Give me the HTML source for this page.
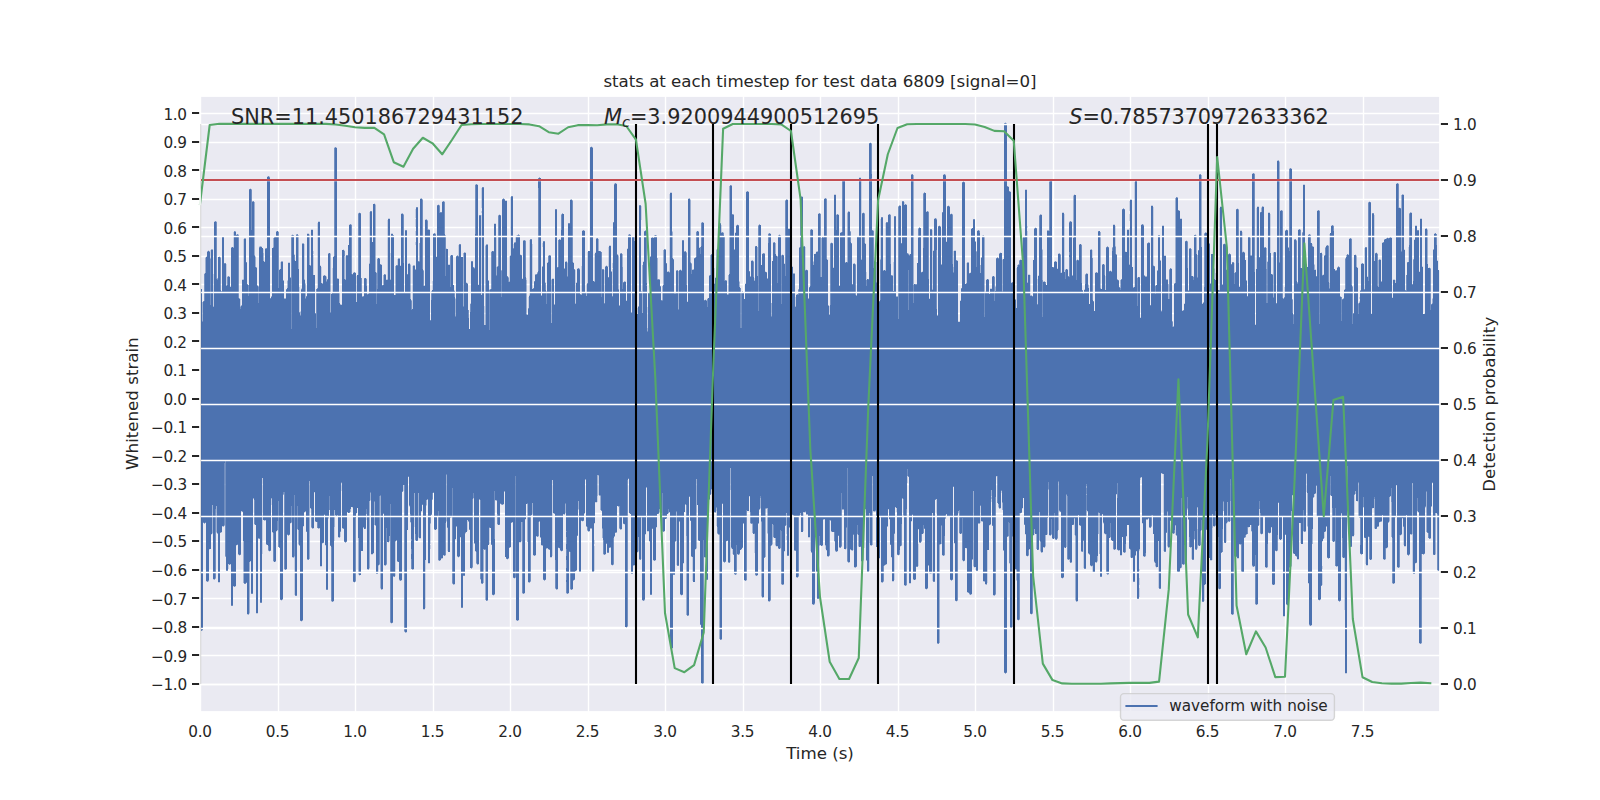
<!DOCTYPE html>
<html lang="en"><head><meta charset="utf-8"><title>stats at each timestep</title>
<style>
html,body{margin:0;padding:0;background:#fff}
body{width:1600px;height:800px;overflow:hidden}
svg{display:block}
text{font-family:"DejaVu Sans","Liberation Sans",sans-serif;fill:#262626}
.tk{font-size:15.28px;letter-spacing:-0.3px}
.lb{font-size:16.67px}
.an{font-size:20.83px}
</style></head><body>
<svg width="1600" height="800" viewBox="0 0 1600 800">
<rect width="1600" height="800" fill="#fff"/>
<rect x="200.0" y="96.0" width="1240.0" height="616.0" fill="#eaeaf2"/>
<path d="M200.50 96.0V712.0M278.50 96.0V712.0M355.50 96.0V712.0M433.50 96.0V712.0M510.50 96.0V712.0M588.50 96.0V712.0M665.50 96.0V712.0M743.50 96.0V712.0M820.50 96.0V712.0M898.50 96.0V712.0M975.50 96.0V712.0M1053.50 96.0V712.0M1130.50 96.0V712.0M1208.50 96.0V712.0M1285.50 96.0V712.0M1363.50 96.0V712.0M200.0 684.50H1440.0M200.0 655.50H1440.0M200.0 627.50H1440.0M200.0 598.50H1440.0M200.0 570.50H1440.0M200.0 541.50H1440.0M200.0 513.50H1440.0M200.0 484.50H1440.0M200.0 456.50H1440.0M200.0 427.50H1440.0M200.0 399.50H1440.0M200.0 370.50H1440.0M200.0 341.50H1440.0M200.0 313.50H1440.0M200.0 284.50H1440.0M200.0 256.50H1440.0M200.0 227.50H1440.0M200.0 199.50H1440.0M200.0 170.50H1440.0M200.0 142.50H1440.0M200.0 113.50H1440.0" stroke="#fff" stroke-width="1.39" fill="none"/>
<clipPath id="c"><rect x="200" y="96" width="1240" height="616"/></clipPath>
<g clip-path="url(#c)"><path d="M200.5 289V629M201.5 289V630M202.5 322V630M203.5 302V522M204.5 301V523M205.5 273V522M206.5 257V581M207.5 252V581M208.5 251V580M209.5 252V549M210.5 305V549M211.5 250V534M212.5 250V505M213.5 307V579M214.5 222V579M215.5 222V509M216.5 279V506M217.5 280V533M218.5 257V582M219.5 257V582M220.5 290V532M221.5 292V532M222.5 237V526M223.5 237V526M224.5 264V463M225.5 264V461M226.5 286V570M227.5 285V570M228.5 277V564M229.5 277V564M230.5 287V564M231.5 248V605M232.5 247V605M233.5 248V586M234.5 232V586M235.5 232V586M236.5 235V545M237.5 235V544M238.5 298V554M239.5 299V555M240.5 309V554M241.5 306V511M242.5 280V511M243.5 280V541M244.5 239V583M245.5 239V583M246.5 263V582M247.5 285V614M248.5 296V614M249.5 190V562M250.5 189V561M251.5 230V593M252.5 202V593M253.5 202V498M254.5 256V500M255.5 267V525M256.5 268V613M257.5 286V613M258.5 303V538M259.5 248V538M260.5 247V602M261.5 247V602M262.5 248V478M263.5 261V520M264.5 262V520M265.5 249V520M266.5 249V544M267.5 177V545M268.5 177V546M269.5 178V551M270.5 299V550M271.5 297V498M272.5 248V532M273.5 248V533M274.5 238V562M275.5 237V561M276.5 232V531M277.5 231V521M278.5 288V501M279.5 270V547M280.5 269V599M281.5 262V600M282.5 262V599M283.5 281V492M284.5 299V492M285.5 299V569M286.5 290V569M287.5 288V534M288.5 263V535M289.5 263V534M290.5 278V523M291.5 329V506M292.5 235V557M293.5 236V557M294.5 260V495M295.5 261V595M296.5 235V595M297.5 235V506M298.5 269V530M299.5 313V545M300.5 316V620M301.5 290V621M302.5 244V620M303.5 244V526M304.5 280V512M305.5 299V511M306.5 297V531M307.5 234V559M308.5 234V559M309.5 265V481M310.5 266V508M311.5 230V509M312.5 230V528M313.5 275V528M314.5 275V492M315.5 314V521M316.5 328V522M317.5 289V522M318.5 222V528M319.5 222V528M320.5 266V566M321.5 283V566M322.5 284V543M323.5 276V542M324.5 276V514M325.5 276V545M326.5 282V589M327.5 280V589M328.5 254V517M329.5 253V496M330.5 313V545M331.5 294V547M332.5 293V601M333.5 257V601M334.5 256V510M335.5 148V515M336.5 148V516M337.5 279V515M338.5 279V537M339.5 303V537M340.5 305V531M341.5 305V482M342.5 250V528M343.5 250V528M344.5 279V541M345.5 280V542M346.5 256V541M347.5 256V512M348.5 245V513M349.5 225V512M350.5 225V509M351.5 274V507M352.5 275V507M353.5 273V581M354.5 273V582M355.5 273V518M356.5 302V513M357.5 275V508M358.5 275V538M359.5 213V575M360.5 214V575M361.5 292V551M362.5 297V551M363.5 297V527M364.5 279V529M365.5 278V528M366.5 286V509M367.5 295V569M368.5 294V569M369.5 264V501M370.5 212V492M371.5 212V554M372.5 242V554M373.5 204V553M374.5 204V501M375.5 272V525M376.5 304V573M377.5 289V573M378.5 258V565M379.5 259V496M380.5 265V495M381.5 265V589M382.5 286V589M383.5 285V513M384.5 275V565M385.5 275V565M386.5 280V528M387.5 280V542M388.5 219V542M389.5 219V536M390.5 280V504M391.5 234V623M392.5 234V622M393.5 236V576M394.5 295V576M395.5 295V541M396.5 266V540M397.5 266V561M398.5 259V562M399.5 259V579M400.5 266V580M401.5 214V580M402.5 214V491M403.5 263V485M404.5 293V485M405.5 231V632M406.5 231V632M407.5 275V530M408.5 264V476M409.5 264V505M410.5 299V514M411.5 310V539M411.5 541V549M411.5 554V559M412.5 309V569M413.5 266V569M414.5 266V493M415.5 270V534M416.5 208V541M417.5 208V540M418.5 262V493M419.5 262V538M420.5 199V538M421.5 199V511M422.5 269V504M423.5 286V609M424.5 286V609M425.5 220V560M426.5 220V500M427.5 230V499M428.5 230V563M429.5 230V563M430.5 321V516M431.5 300V514M432.5 290V493M433.5 234V492M434.5 234V529M435.5 235V530M436.5 257V529M437.5 206V517M438.5 205V511M439.5 213V560M440.5 213V560M441.5 213V558M442.5 202V558M443.5 202V555M444.5 234V555M445.5 276V523M446.5 249V474M447.5 249V527M448.5 265V552M449.5 265V552M450.5 287V517M451.5 255V517M452.5 256V488M453.5 285V584M454.5 297V584M455.5 317V539M456.5 257V526M457.5 256V556M458.5 257V557M459.5 245V556M460.5 245V537M461.5 257V607M462.5 257V607M463.5 307V575M464.5 253V575M465.5 253V532M466.5 283V532M467.5 284V520M468.5 318V521M469.5 329V529M470.5 312V568M471.5 262V568M472.5 262V499M473.5 268V493M474.5 269V543M475.5 234V551M476.5 185V552M477.5 185V564M478.5 285V564M479.5 216V499M480.5 216V500M481.5 295V583M482.5 188V583M483.5 188V549M484.5 325V549M485.5 325V549M486.5 245V600M487.5 245V600M488.5 281V545M489.5 330V527M490.5 290V528M491.5 289V544M492.5 251V594M493.5 252V595M494.5 224V491M494.5 539V594M495.5 224V500M496.5 276V500M497.5 267V514M498.5 266V525M499.5 215V524M500.5 216V503M501.5 297V504M502.5 200V504M503.5 199V504M504.5 200V491M505.5 201V557M506.5 201V558M507.5 277V559M508.5 282V558M509.5 282V547M510.5 256V547M511.5 197V522M512.5 197V522M513.5 249V577M514.5 243V578M515.5 243V476M516.5 236V620M517.5 236V620M518.5 235V620M519.5 236V542M520.5 255V542M521.5 256V522M522.5 279V522M523.5 241V593M524.5 241V593M525.5 277V519M526.5 315V504M527.5 315V503M528.5 309V582M529.5 296V582M530.5 240V516M531.5 240V515M532.5 289V503M533.5 289V555M534.5 282V555M535.5 275V555M536.5 275V536M537.5 274V536M538.5 179V188M538.5 271V522M539.5 178V521M540.5 178V537M541.5 296V545M542.5 267V545M543.5 242V579M544.5 242V580M545.5 290V579M546.5 304V548M547.5 263V548M548.5 262V549M549.5 256V549M550.5 256V557M551.5 323V557M552.5 279V480M553.5 279V513M554.5 305V513M555.5 210V560M556.5 210V589M557.5 268V589M558.5 267V547M559.5 240V548M560.5 240V550M561.5 230V551M562.5 214V550M563.5 214V514M564.5 269V514M565.5 262V503M566.5 262V531M566.5 532V537M566.5 544V549M566.5 556V560M566.5 568V571M566.5 580V582M567.5 277V593M568.5 224V593M569.5 224V551M570.5 200V552M571.5 200V589M572.5 262V589M573.5 263V580M574.5 270V579M575.5 304V571M576.5 283V570M577.5 269V535M578.5 269V501M579.5 270V571M580.5 295V571M581.5 295V520M582.5 231V521M583.5 231V520M584.5 231V513M585.5 293V479M586.5 296V526M587.5 284V527M588.5 251V531M589.5 251V531M590.5 148V528M591.5 147V528M592.5 148V571M593.5 281V571M594.5 282V523M595.5 253V502M596.5 239V502M597.5 239V475M598.5 251V475M599.5 251V495M600.5 252V495M601.5 297V510M602.5 270V528M603.5 270V540M604.5 304V554M605.5 267V554M606.5 266V543M607.5 267V552M608.5 278V552M609.5 246V547M610.5 246V547M611.5 272V564M612.5 297V565M613.5 223V538M614.5 185V536M615.5 184V532M616.5 184V532M617.5 255V506M618.5 290V506M619.5 306V506M620.5 254V529M621.5 254V529M622.5 289V517M623.5 283V523M624.5 282V524M625.5 282V627M626.5 301V627M627.5 249V480M628.5 236V478M629.5 235V513M630.5 235V514M631.5 313V573M632.5 237V573M633.5 237V565M634.5 241V565M635.5 243V474M636.5 314V552M637.5 314V552M638.5 307V537M639.5 206V559M640.5 206V559M641.5 292V517M642.5 313V600M643.5 262V600M644.5 232V599M645.5 231V534M646.5 283V285M646.5 286V487M647.5 332V531M648.5 293V531M649.5 293V541M650.5 257V594M651.5 238V594M652.5 238V528M653.5 238V560M654.5 236V560M655.5 235V560M656.5 236V527M657.5 280V514M658.5 280V513M659.5 280V509M660.5 287V513M661.5 301V513M662.5 301V493M663.5 285V531M664.5 250V531M665.5 250V519M666.5 264V518M667.5 272V514M668.5 272V509M669.5 273V512M670.5 193V648M671.5 193V648M672.5 258V648M673.5 260V574M674.5 294V574M675.5 294V541M676.5 271V511M677.5 271V565M678.5 310V565M679.5 271V521M680.5 270V594M681.5 271V595M682.5 241V594M683.5 241V563M684.5 252V512M685.5 252V504M686.5 285V505M687.5 302V615M688.5 199V615M689.5 199V496M690.5 263V520M691.5 274V556M692.5 270V557M693.5 270V582M694.5 259V582M695.5 258V549M696.5 257V479M697.5 231V505M698.5 232V540M699.5 248V541M700.5 254V624M701.5 246V683M702.5 223V683M703.5 223V540M704.5 301V557M705.5 300V557M706.5 301V579M707.5 307V579M708.5 298V500M709.5 276V499M710.5 275V494M711.5 255V489M712.5 255V484M713.5 268V511M714.5 284V512M715.5 278V512M716.5 277V507M717.5 249V527M718.5 249V534M719.5 224V534M720.5 224V639M721.5 233V639M722.5 233V503M723.5 235V561M724.5 281V562M725.5 281V561M726.5 281V541M727.5 295V540M728.5 295V562M729.5 274V562M730.5 186V468M731.5 186V547M732.5 215V549M733.5 215V554M734.5 250V574M735.5 233V574M736.5 226V545M737.5 225V554M738.5 226V554M739.5 287V553M740.5 328V550M741.5 328V549M742.5 292V547M743.5 292V523M744.5 299V580M745.5 284V580M746.5 192V510M747.5 192V511M748.5 192V511M749.5 272V496M750.5 277V512M751.5 261V523M752.5 261V523M753.5 277V534M754.5 281V533M755.5 247V574M756.5 246V575M757.5 276V575M758.5 311V523M759.5 225V509M760.5 225V496M761.5 265V521M762.5 254V597M763.5 254V597M764.5 254V557M765.5 272V508M766.5 273V508M767.5 279V508M768.5 243V601M769.5 234V601M770.5 234V546M771.5 317V545M772.5 261V524M773.5 243V525M774.5 243V538M775.5 254V538M776.5 256V546M777.5 283V546M778.5 236V548M779.5 235V549M780.5 236V530M781.5 304V531M782.5 255V584M783.5 256V584M784.5 264V551M785.5 276V525M786.5 200V513M787.5 200V555M788.5 229V555M789.5 229V527M790.5 263V527M791.5 264V524M792.5 267V514M793.5 274V515M794.5 274V550M795.5 307V550M796.5 295V577M797.5 295V577M798.5 295V516M799.5 248V515M800.5 247V513M801.5 197V532M802.5 197V532M803.5 247V512M804.5 247V512M805.5 271V511M806.5 270V514M807.5 271V514M808.5 299V537M809.5 288V537M810.5 286V518M811.5 230V552M812.5 230V604M813.5 265V604M814.5 254V603M815.5 254V519M816.5 252V571M817.5 252V598M818.5 214V598M819.5 214V536M820.5 277V545M821.5 277V546M822.5 237V545M823.5 238V519M824.5 199V519M825.5 199V545M826.5 259V550M827.5 260V556M828.5 306V556M829.5 315V520M830.5 305V520M831.5 243V531M832.5 244V532M833.5 268V532M834.5 195V532M835.5 195V550M836.5 230V551M837.5 215V551M838.5 215V535M839.5 286V547M840.5 233V547M841.5 233V493M842.5 232V509M843.5 181V509M844.5 181V549M845.5 263V549M846.5 262V527M847.5 263V468M848.5 212V562M849.5 212V562M850.5 242V549M851.5 244V550M852.5 285V550M853.5 264V534M854.5 264V567M855.5 295V567M856.5 296V566M857.5 237V525M858.5 237V535M859.5 178V547M860.5 178V546M861.5 260V561M862.5 214V561M863.5 213V548M864.5 243V509M865.5 244V509M866.5 286V560M867.5 279V571M868.5 280V571M869.5 144V513M870.5 143V545M871.5 174V178M871.5 181V545M872.5 231V476M873.5 268V511M874.5 262V511M875.5 261V510M876.5 283V547M877.5 287V547M878.5 305V558M879.5 302V558M880.5 300V517M881.5 218V582M882.5 218V582M883.5 271V566M884.5 270V565M885.5 271V564M886.5 223V564M887.5 223V526M888.5 215V509M889.5 215V519M890.5 264V544M891.5 276V557M892.5 276V581M893.5 291V581M894.5 217V533M895.5 217V507M896.5 297V508M897.5 297V554M898.5 319V555M899.5 206V550M900.5 206V546M901.5 244V524M902.5 202V498M903.5 202V499M904.5 205V585M905.5 205V585M906.5 205V509M907.5 254V469M908.5 255V270M908.5 310V476M909.5 256V583M910.5 254V583M911.5 175V521M912.5 175V514M913.5 303V579M914.5 284V580M915.5 285V579M916.5 285V566M917.5 263V566M918.5 238V529M919.5 228V542M920.5 228V542M921.5 273V534M922.5 272V534M923.5 248V525M924.5 193V528M925.5 193V588M926.5 212V589M927.5 212V588M928.5 279V565M929.5 299V572M930.5 230V573M931.5 230V572M932.5 290V513M933.5 251V581M934.5 219V581M935.5 219V499M936.5 220V250M936.5 309V499M937.5 316V643M938.5 227V643M939.5 226V544M940.5 227V544M941.5 265V525M942.5 213V555M943.5 175V555M944.5 175V536M945.5 176V515M946.5 242V514M947.5 207V516M948.5 206V516M949.5 207V516M950.5 215V579M951.5 214V580M952.5 264V579M953.5 273V486M954.5 251V543M955.5 251V600M956.5 261V601M957.5 261V515M958.5 322V511M959.5 322V510M960.5 301V534M961.5 289V533M962.5 183V518M963.5 182V561M964.5 183V560M965.5 284V548M966.5 284V548M967.5 263V592M968.5 263V592M969.5 274V593M970.5 273V594M971.5 229V594M972.5 228V559M973.5 220V491M974.5 220V567M975.5 242V567M976.5 267V570M977.5 231V570M978.5 231V523M979.5 233V523M980.5 273V505M981.5 258V521M982.5 236V521M983.5 236V581M984.5 317V581M985.5 292V584M986.5 280V584M987.5 279V550M988.5 280V550M989.5 294V525M990.5 289V524M991.5 289V490M992.5 277V525M993.5 276V595M994.5 301V595M995.5 291V497M996.5 259V476M997.5 258V476M998.5 259V504M999.5 254V508M1000.5 253V508M1001.5 253V490M1002.5 292V502M1003.5 259V550M1004.5 124V672M1005.5 123V673M1006.5 124V672M1007.5 187V536M1008.5 187V522M1009.5 192V523M1010.5 192V627M1011.5 283V627M1012.5 283V536M1013.5 299V505M1014.5 300V505M1015.5 300V569M1016.5 308V569M1017.5 267V619M1018.5 265V620M1019.5 265V513M1020.5 260V513M1021.5 260V512M1022.5 250V508M1023.5 238V498M1024.5 238V524M1025.5 190V534M1026.5 190V555M1027.5 283V556M1028.5 275V550M1029.5 275V549M1030.5 296V613M1031.5 296V614M1032.5 297V536M1033.5 260V535M1034.5 229V529M1035.5 228V534M1036.5 229V534M1037.5 305V550M1038.5 276V549M1039.5 237V512M1040.5 215V541M1041.5 215V552M1042.5 317V552M1043.5 282V547M1044.5 282V547M1045.5 284V535M1046.5 285V535M1047.5 231V518M1048.5 231V482M1049.5 231V535M1050.5 181V535M1051.5 181V519M1052.5 267V538M1053.5 268V539M1054.5 262V513M1055.5 262V539M1056.5 262V539M1057.5 269V531M1058.5 254V481M1059.5 254V510M1060.5 273V511M1061.5 273V577M1062.5 213V578M1063.5 213V577M1064.5 272V547M1065.5 279V548M1066.5 269V494M1067.5 270V496M1068.5 277V559M1069.5 223V252M1069.5 255V257M1069.5 277V559M1070.5 222V562M1071.5 222V562M1072.5 276V525M1073.5 238V524M1074.5 195V518M1075.5 195V535M1076.5 280V601M1077.5 260V601M1078.5 261V515M1079.5 245V525M1080.5 244V525M1081.5 283V551M1082.5 291V551M1083.5 294V540M1084.5 290V568M1085.5 284V568M1086.5 274V484M1087.5 274V511M1088.5 288V553M1089.5 304V554M1090.5 250V565M1091.5 250V566M1092.5 300V565M1093.5 302V572M1094.5 311V572M1095.5 273V562M1096.5 273V562M1097.5 273V556M1098.5 232V512M1099.5 231V513M1100.5 289V576M1101.5 289V576M1102.5 265V514M1103.5 264V522M1104.5 275V533M1105.5 290V534M1106.5 248V534M1107.5 247V574M1108.5 248V574M1109.5 272V538M1110.5 271V523M1111.5 272V540M1112.5 251V541M1113.5 225V541M1114.5 225V549M1115.5 254V549M1116.5 255V494M1117.5 280V483M1117.5 498V549M1118.5 281V550M1119.5 288V550M1120.5 290V555M1121.5 280V555M1122.5 210V537M1123.5 209V552M1124.5 210V552M1125.5 252V544M1126.5 252V536M1127.5 230V525M1128.5 230V525M1129.5 265V548M1130.5 200V549M1131.5 200V558M1132.5 267V557M1133.5 288V581M1134.5 287V581M1135.5 181V555M1136.5 181V551M1137.5 306V598M1138.5 277V598M1139.5 278V549M1140.5 318V477M1141.5 225V477M1142.5 225V523M1143.5 226V556M1144.5 276V556M1145.5 277V553M1146.5 277V519M1147.5 244V519M1148.5 243V518M1149.5 243V527M1150.5 306V527M1151.5 206V515M1152.5 206V515M1153.5 266V534M1154.5 267V561M1155.5 294V563M1156.5 285V567M1157.5 271V567M1158.5 236V541M1159.5 236V588M1160.5 261V588M1161.5 312V473M1162.5 226V473M1163.5 226V474M1164.5 256V551M1165.5 256V551M1166.5 280V532M1167.5 280V511M1168.5 299V547M1169.5 299V547M1170.5 269V520M1171.5 269V520M1172.5 327V533M1173.5 327V533M1174.5 284V530M1175.5 283V525M1176.5 198V535M1177.5 198V571M1178.5 211V572M1179.5 211V571M1180.5 219V568M1181.5 219V498M1182.5 311V564M1183.5 311V564M1184.5 304V545M1185.5 242V563M1186.5 241V563M1187.5 268V497M1188.5 291V519M1189.5 249V537M1190.5 249V547M1191.5 276V547M1192.5 276V559M1193.5 280V559M1194.5 235V531M1195.5 235V549M1196.5 254V549M1197.5 278V507M1198.5 251V545M1199.5 175V546M1200.5 175V531M1201.5 247V520M1202.5 304V601M1203.5 303V601M1204.5 287V585M1205.5 233V584M1206.5 233V529M1207.5 281V528M1208.5 244V503M1209.5 244V558M1210.5 284V560M1211.5 254V560M1212.5 254V514M1213.5 268V526M1214.5 279V526M1215.5 280V511M1216.5 273V510M1217.5 273V535M1218.5 290V537M1219.5 291V589M1220.5 207V588M1221.5 207V552M1222.5 285V529M1223.5 245V501M1224.5 244V542M1225.5 245V543M1226.5 270V523M1227.5 270V502M1228.5 255V521M1229.5 254V521M1230.5 255V479M1231.5 265V614M1232.5 263V614M1233.5 263V515M1234.5 284V515M1235.5 273V557M1236.5 210V556M1237.5 209V558M1238.5 263V558M1239.5 287V544M1240.5 231V544M1241.5 231V544M1242.5 253V572M1243.5 252V572M1244.5 253V537M1245.5 260V535M1246.5 281V534M1247.5 297V527M1248.5 237V527M1249.5 237V527M1250.5 256V525M1251.5 256V525M1252.5 174V565M1253.5 174V566M1254.5 272V566M1255.5 325V555M1256.5 269V604M1257.5 207V604M1258.5 207V525M1259.5 258V501M1260.5 213V513M1261.5 212V534M1262.5 207V533M1263.5 207V516M1264.5 248V516M1265.5 248V567M1266.5 303V567M1267.5 303V544M1268.5 213V532M1269.5 213V533M1270.5 253V532M1271.5 274V527M1272.5 275V584M1273.5 298V585M1274.5 252V584M1275.5 253V550M1276.5 304V551M1277.5 161V535M1278.5 161V502M1279.5 263V539M1280.5 211V540M1281.5 211V539M1282.5 298V516M1283.5 299V616M1284.5 298V616M1285.5 231V534M1286.5 230V604M1287.5 231V605M1288.5 248V604M1289.5 251V567M1290.5 169V567M1291.5 169V511M1292.5 313V495M1293.5 324V553M1294.5 240V554M1295.5 240V555M1296.5 281V556M1297.5 284V559M1298.5 230V559M1299.5 230V523M1300.5 268V523M1301.5 268V544M1302.5 269V544M1303.5 185V510M1304.5 185V531M1305.5 264V531M1306.5 265V473M1307.5 267V493M1308.5 235V583M1309.5 235V624M1310.5 243V625M1311.5 243V625M1312.5 247V529M1313.5 247V497M1314.5 270V494M1315.5 270V493M1316.5 277V485M1317.5 211V517M1318.5 211V599M1319.5 324V600M1320.5 253V599M1321.5 253V585M1322.5 276V541M1323.5 275V538M1324.5 256V532M1325.5 255V531M1326.5 246V526M1327.5 246V557M1328.5 282V558M1329.5 289V558M1330.5 233V476M1331.5 226V496M1332.5 226V508M1333.5 231V542M1334.5 269V541M1335.5 271V508M1336.5 271V566M1337.5 268V566M1338.5 267V600M1339.5 268V601M1340.5 297V600M1341.5 321V513M1342.5 300V538M1343.5 299V558M1344.5 290V557M1345.5 289V673M1346.5 257V673M1347.5 255V466M1348.5 255V533M1349.5 239V534M1350.5 239V547M1351.5 285V546M1352.5 324V536M1353.5 314V536M1354.5 255V494M1355.5 255V491M1356.5 267V501M1357.5 268V501M1358.5 314V482M1359.5 303V517M1360.5 291V518M1360.5 545V553M1361.5 264V554M1362.5 264V554M1363.5 264V497M1364.5 290V537M1365.5 248V538M1366.5 248V565M1367.5 277V565M1368.5 281V536M1369.5 202V537M1370.5 203V560M1371.5 314V559M1372.5 214V508M1373.5 214V508M1374.5 261V497M1375.5 254V529M1376.5 253V528M1377.5 286V526M1378.5 287V526M1379.5 260V522M1380.5 260V521M1381.5 282V521M1382.5 243V515M1383.5 243V559M1384.5 240V559M1385.5 239V548M1386.5 239V548M1387.5 238V547M1388.5 239V522M1389.5 238V497M1390.5 238V496M1391.5 238V488M1392.5 298V538M1393.5 280V583M1394.5 280V583M1395.5 283V517M1396.5 184V485M1397.5 184V567M1398.5 208V567M1399.5 208V535M1400.5 209V535M1401.5 252V534M1402.5 195V518M1403.5 195V526M1404.5 250V546M1405.5 291V546M1406.5 291V515M1407.5 263V554M1408.5 262V555M1409.5 245V554M1410.5 213V534M1411.5 213V534M1412.5 285V483M1413.5 281V573M1414.5 240V573M1415.5 226V563M1416.5 226V562M1417.5 231V498M1418.5 231V512M1419.5 272V643M1420.5 219V643M1421.5 219V554M1422.5 267V554M1423.5 314V554M1424.5 314V553M1425.5 229V506M1426.5 229V491M1427.5 264V532M1428.5 268V533M1429.5 268V538M1430.5 310V538M1431.5 305V506M1432.5 304V482M1433.5 250V554M1434.5 234V555M1435.5 234V513M1436.5 245V513M1437.5 261V514M1438.5 270V570M1439.5 271V570" stroke="#4c72b0" stroke-width="1" stroke-opacity="1.0" fill="none" shape-rendering="crispEdges"/>
<path d="M200.5 629V630M201.5 630V631M202.5 321V322M203.5 301V302M203.5 522V523M204.5 274V301M205.5 522V523M207.5 581V582M208.5 580V581M210.5 259V305M215.5 221V222M215.5 509V578M216.5 222V279M217.5 279V280M220.5 258V290M220.5 532V533M221.5 291V292M222.5 236V237M223.5 236V237M224.5 263V264M224.5 463V525M225.5 263V264M225.5 461V556M226.5 570V571M227.5 277V285M227.5 570V571M228.5 276V277M229.5 564V565M231.5 605V606M232.5 605V606M234.5 231V232M234.5 586V587M237.5 234V235M237.5 544V545M238.5 235V298M240.5 307V309M240.5 554V555M242.5 511V512M244.5 583V584M245.5 583V584M246.5 262V263M246.5 582V583M247.5 284V285M248.5 285V296M249.5 189V190M251.5 190V230M251.5 593V594M252.5 593V594M253.5 201V202M254.5 255V256M254.5 500V524M258.5 287V303M259.5 247V248M259.5 538V539M260.5 602V603M261.5 602V603M266.5 248V249M268.5 176V177M268.5 546V550M269.5 177V178M270.5 298V299M270.5 550V551M273.5 247V248M273.5 533V561M274.5 237V238M277.5 521V530M278.5 232V288M278.5 501V547M279.5 547V548M280.5 599V600M283.5 492V494M284.5 492V569M285.5 569V570M286.5 289V290M287.5 534V535M289.5 534V535M291.5 236V329M291.5 506V522M293.5 235V236M294.5 255V260M294.5 495V556M295.5 595V596M296.5 595V596M297.5 234V235M297.5 506V529M299.5 312V313M300.5 315V316M300.5 620V621M301.5 289V290M305.5 298V299M306.5 296V297M306.5 531V532M308.5 559V560M311.5 509V527M315.5 313V314M316.5 289V328M317.5 288V289M317.5 522V528M323.5 542V543M324.5 275V276M324.5 514V515M326.5 281V282M326.5 589V590M327.5 279V280M327.5 589V590M329.5 496V510M330.5 312V313M330.5 545V546M331.5 547V601M332.5 601V602M334.5 148V256M335.5 147V148M340.5 531V532M341.5 482V483M343.5 528V529M344.5 251V256M344.5 541V542M346.5 255V256M346.5 541V542M347.5 255V256M349.5 512V513M350.5 224V225M351.5 225V274M352.5 274V275M353.5 581V582M354.5 272V273M355.5 518V581M358.5 214V275M360.5 213V214M361.5 278V292M363.5 296V297M364.5 278V279M365.5 528V529M366.5 279V286M366.5 509V514M367.5 294V295M370.5 211V212M370.5 492V493M371.5 211V212M374.5 501V502M376.5 273V304M376.5 573V574M377.5 259V289M377.5 573V574M379.5 496V564M380.5 264V265M380.5 495V496M382.5 285V286M383.5 513V514M384.5 274V275M386.5 528V564M390.5 504V622M392.5 622V623M393.5 235V236M394.5 576V577M396.5 265V266M397.5 265V266M399.5 579V580M400.5 580V581M402.5 491V492M403.5 215V263M404.5 485V631M405.5 230V231M406.5 230V231M407.5 274V275M408.5 476V477M409.5 505V506M410.5 514V522M411.5 301V310M411.5 539V541M411.5 549V554M411.5 559V569M415.5 534V540M416.5 207V208M417.5 207V208M417.5 540V541M418.5 261V262M419.5 261V262M422.5 200V269M422.5 504V505M423.5 271V286M427.5 221V230M430.5 320V321M430.5 516V523M431.5 292V300M431.5 514V515M432.5 493V499M433.5 492V493M434.5 233V234M435.5 234V235M437.5 205V206M438.5 511V560M439.5 206V213M439.5 560V561M440.5 212V213M441.5 212V213M443.5 201V202M444.5 202V234M444.5 555V556M445.5 236V276M445.5 523V555M446.5 474V475M447.5 527V528M450.5 256V287M452.5 255V256M452.5 488V583M454.5 291V297M455.5 316V317M456.5 256V257M458.5 256V257M459.5 244V245M460.5 244V245M461.5 607V608M462.5 607V608M463.5 306V307M463.5 575V576M464.5 575V576M465.5 532V533M468.5 310V318M469.5 529V530M470.5 304V312M471.5 261V262M472.5 261V262M472.5 499V567M473.5 267V268M473.5 493V498M474.5 268V269M475.5 185V234M476.5 184V185M476.5 552V563M479.5 215V216M480.5 215V216M480.5 500V579M482.5 187V188M482.5 583V584M483.5 187V188M484.5 549V550M485.5 549V550M486.5 600V601M489.5 290V330M489.5 527V528M490.5 289V290M491.5 252V289M491.5 544V545M492.5 594V595M493.5 251V252M494.5 491V539M496.5 275V276M497.5 514V524M498.5 216V266M499.5 524V525M500.5 215V216M500.5 503V504M501.5 271V297M502.5 199V200M502.5 504V505M504.5 199V200M506.5 558V559M507.5 276V277M508.5 278V282M509.5 547V548M511.5 196V197M511.5 522V523M512.5 196V197M513.5 248V249M513.5 577V578M515.5 242V243M515.5 476V577M517.5 235V236M517.5 620V621M519.5 235V236M521.5 255V256M522.5 522V593M523.5 593V594M524.5 240V241M525.5 241V277M526.5 314V315M527.5 503V504M528.5 308V309M530.5 239V240M530.5 516V581M531.5 239V240M533.5 288V289M534.5 281V282M534.5 555V556M536.5 274V275M537.5 273V274M537.5 536V537M538.5 178V179M538.5 188V271M538.5 522V536M543.5 241V242M543.5 579V580M544.5 241V242M545.5 283V290M545.5 579V580M546.5 292V304M548.5 256V262M549.5 255V256M549.5 549V550M554.5 513V514M555.5 209V210M555.5 560V588M556.5 209V210M557.5 267V268M558.5 240V267M558.5 547V548M559.5 239V240M561.5 215V230M562.5 550V551M565.5 503V504M566.5 531V532M566.5 537V544M566.5 549V556M566.5 560V568M566.5 571V580M566.5 582V593M567.5 276V277M567.5 593V594M568.5 223V224M569.5 223V224M569.5 551V552M570.5 552V589M571.5 589V590M572.5 201V262M574.5 269V270M574.5 579V580M577.5 535V536M578.5 268V269M579.5 269V270M579.5 571V572M580.5 294V295M580.5 571V572M581.5 520V521M583.5 230V231M583.5 520V521M587.5 283V284M587.5 527V530M590.5 147V148M592.5 571V572M593.5 571V572M597.5 238V239M600.5 251V252M600.5 495V496M601.5 252V297M601.5 510V511M602.5 269V270M602.5 528V529M603.5 269V270M603.5 540V554M604.5 303V304M604.5 554V555M606.5 543V544M607.5 552V553M608.5 277V278M608.5 552V553M609.5 547V548M611.5 564V565M612.5 296V297M613.5 222V223M613.5 538V564M614.5 184V185M615.5 183V184M615.5 532V533M618.5 289V290M619.5 506V528M621.5 253V254M622.5 267V289M623.5 282V283M623.5 523V524M627.5 480V626M628.5 235V236M628.5 478V479M629.5 234V235M631.5 573V574M632.5 573V574M633.5 236V237M635.5 242V243M639.5 205V206M640.5 205V206M640.5 559V560M643.5 600V601M644.5 231V232M644.5 599V600M646.5 232V283M646.5 285V286M647.5 331V332M649.5 292V293M650.5 594V595M651.5 594V595M652.5 237V238M652.5 528V529M654.5 560V561M657.5 279V280M658.5 279V280M658.5 513V514M660.5 286V287M661.5 300V301M662.5 300V301M662.5 493V531M663.5 531V532M664.5 249V250M666.5 263V264M668.5 509V513M669.5 272V273M671.5 648V649M673.5 259V260M673.5 574V575M674.5 293V294M674.5 574V575M675.5 293V294M676.5 511V512M677.5 270V271M677.5 565V566M678.5 309V310M678.5 565V566M679.5 270V271M682.5 240V241M682.5 594V595M683.5 240V241M685.5 251V252M686.5 253V285M686.5 505V536M687.5 615V616M689.5 496V497M690.5 262V263M690.5 520V521M691.5 264V274M694.5 258V259M696.5 232V257M700.5 247V254M700.5 624V625M701.5 223V246M702.5 222V223M702.5 683V684M703.5 540V683M704.5 300V301M706.5 579V580M707.5 299V307M707.5 579V580M710.5 494V495M711.5 254V255M716.5 507V508M717.5 527V533M719.5 223V224M719.5 534V535M720.5 223V224M720.5 639V640M722.5 232V233M722.5 503V504M723.5 233V235M723.5 561V562M724.5 237V281M725.5 280V281M725.5 561V562M727.5 540V541M728.5 294V295M729.5 562V563M730.5 185V186M731.5 547V548M732.5 214V215M733.5 554V555M735.5 574V575M736.5 545V574M738.5 225V226M738.5 554V555M739.5 553V554M740.5 288V328M741.5 293V328M742.5 547V548M745.5 580V581M746.5 510V580M747.5 191V192M749.5 271V272M750.5 512V523M751.5 523V524M752.5 523V524M753.5 262V277M754.5 533V534M755.5 246V247M755.5 574V575M756.5 575V576M758.5 226V311M760.5 496V498M761.5 521V522M763.5 253V254M764.5 557V558M765.5 508V509M766.5 272V273M768.5 234V243M769.5 233V234M770.5 546V600M771.5 316V317M773.5 525V537M774.5 242V243M777.5 257V283M780.5 530V548M781.5 256V304M781.5 531V584M782.5 584V585M783.5 255V256M785.5 201V276M785.5 525V526M787.5 555V556M788.5 555V556M792.5 514V515M795.5 550V551M797.5 294V295M798.5 290V295M798.5 516V576M799.5 515V516M800.5 198V247M804.5 246V247M805.5 270V271M805.5 511V512M807.5 270V271M809.5 287V288M810.5 230V286M811.5 229V230M813.5 604V605M814.5 603V604M815.5 519V520M816.5 571V572M817.5 598V599M818.5 598V599M819.5 213V214M819.5 536V545M820.5 214V277M823.5 237V238M825.5 198V199M826.5 199V259M829.5 520V555M830.5 244V305M832.5 243V244M834.5 532V541M835.5 550V551M836.5 215V230M836.5 551V552M837.5 214V215M838.5 535V536M840.5 547V548M841.5 232V233M841.5 493V546M842.5 181V232M843.5 180V181M846.5 527V528M847.5 262V263M847.5 468V561M850.5 232V242M851.5 243V244M852.5 284V285M853.5 534V535M855.5 265V295M856.5 566V567M857.5 525V534M860.5 546V547M862.5 213V214M864.5 214V243M866.5 280V286M867.5 571V572M868.5 279V280M868.5 571V572M869.5 143V144M871.5 144V174M871.5 178V181M872.5 230V231M873.5 231V268M874.5 261V262M875.5 510V511M876.5 282V283M877.5 547V557M878.5 304V305M879.5 301V302M880.5 260V300M881.5 217V218M882.5 217V218M883.5 566V581M885.5 564V565M886.5 222V223M887.5 222V223M889.5 214V215M890.5 215V264M890.5 544V545M891.5 275V276M894.5 216V217M894.5 533V534M895.5 216V217M897.5 554V555M898.5 207V319M899.5 550V554M901.5 243V244M901.5 524V545M902.5 201V202M903.5 201V202M903.5 499V515M905.5 204V205M905.5 585V586M906.5 509V585M907.5 253V254M907.5 469V476M908.5 254V255M908.5 270V310M908.5 476V477M909.5 255V256M912.5 174V175M912.5 514V515M913.5 285V303M915.5 284V285M916.5 284V285M916.5 566V567M917.5 566V567M918.5 229V238M920.5 542V543M921.5 272V273M921.5 534V541M923.5 194V248M923.5 525V533M924.5 528V529M925.5 588V589M927.5 211V212M928.5 212V279M929.5 572V573M930.5 229V230M931.5 229V230M931.5 572V573M933.5 581V582M934.5 581V582M935.5 218V219M935.5 499V500M936.5 219V220M936.5 250V309M938.5 226V227M938.5 643V644M939.5 544V545M941.5 525V526M942.5 212V213M943.5 555V556M944.5 174V175M944.5 536V555M945.5 175V176M945.5 515V518M947.5 206V207M948.5 516V517M950.5 214V215M950.5 579V580M952.5 215V264M952.5 579V580M953.5 272V273M953.5 486V487M955.5 600V601M956.5 260V261M957.5 515V600M959.5 510V533M961.5 288V289M962.5 182V183M962.5 518V560M964.5 182V183M964.5 560V561M966.5 283V284M968.5 592V593M969.5 273V274M969.5 593V594M970.5 594V595M973.5 219V220M974.5 219V220M976.5 252V267M976.5 570V571M977.5 570V571M978.5 230V231M979.5 231V233M980.5 505V506M984.5 293V317M992.5 525V526M994.5 277V301M995.5 497V594M996.5 258V259M997.5 476V503M998.5 258V259M1001.5 490V491M1002.5 291V292M1002.5 502V503M1004.5 123V124M1004.5 672V673M1006.5 672V673M1007.5 186V187M1007.5 536V537M1008.5 522V536M1009.5 191V192M1009.5 523V563M1011.5 627V628M1012.5 282V283M1012.5 536V537M1013.5 283V299M1013.5 505V506M1014.5 299V300M1014.5 505V568M1016.5 569V570M1017.5 619V620M1019.5 261V265M1019.5 513V619M1021.5 512V513M1023.5 237V238M1024.5 237V238M1024.5 524V525M1026.5 555V556M1028.5 550V555M1030.5 613V614M1032.5 296V297M1032.5 536V613M1036.5 228V229M1037.5 304V305M1038.5 549V550M1039.5 216V237M1040.5 541V542M1042.5 280V317M1045.5 282V284M1048.5 482V489M1049.5 182V231M1051.5 519V534M1053.5 267V268M1054.5 513V538M1055.5 261V262M1056.5 539V540M1057.5 531V538M1058.5 481V482M1059.5 510V511M1060.5 255V273M1060.5 511V512M1061.5 577V578M1065.5 270V279M1066.5 494V495M1067.5 496V559M1068.5 276V277M1068.5 559V560M1069.5 222V223M1069.5 252V255M1069.5 257V277M1070.5 221V222M1070.5 562V563M1073.5 524V525M1075.5 535V536M1076.5 261V280M1078.5 260V261M1080.5 525V526M1081.5 245V283M1082.5 290V291M1082.5 551V552M1083.5 293V294M1083.5 540V541M1084.5 568V569M1085.5 275V284M1085.5 568V569M1086.5 484V486M1086.5 488V494M1086.5 495V510M1092.5 258V300M1092.5 565V566M1093.5 301V302M1093.5 572V573M1094.5 572V573M1096.5 272V273M1098.5 231V232M1098.5 512V513M1100.5 288V289M1100.5 576V577M1101.5 576V577M1103.5 522V523M1104.5 265V275M1106.5 247V248M1106.5 534V573M1108.5 247V248M1109.5 271V272M1110.5 523V537M1112.5 248V251M1113.5 541V549M1114.5 549V550M1115.5 247V254M1117.5 483V498M1117.5 549V550M1118.5 280V281M1119.5 287V288M1120.5 288V290M1121.5 279V280M1122.5 209V210M1124.5 209V210M1124.5 552V553M1125.5 544V552M1129.5 548V549M1130.5 549V550M1132.5 557V558M1133.5 581V582M1134.5 581V582M1137.5 278V306M1137.5 598V599M1138.5 598V599M1139.5 277V278M1140.5 477V478M1142.5 224V225M1143.5 225V226M1144.5 556V557M1145.5 553V556M1147.5 243V244M1150.5 305V306M1150.5 527V528M1151.5 515V526M1154.5 266V267M1154.5 561V562M1155.5 286V294M1158.5 235V236M1159.5 235V236M1159.5 588V589M1160.5 588V589M1161.5 311V312M1162.5 473V474M1164.5 551V552M1165.5 551V552M1166.5 532V533M1167.5 511V512M1169.5 270V299M1170.5 268V269M1170.5 520V521M1171.5 520V521M1172.5 322V327M1173.5 533V534M1174.5 530V533M1176.5 197V198M1177.5 571V572M1178.5 210V211M1179.5 571V572M1181.5 498V567M1183.5 310V311M1183.5 564V565M1184.5 545V564M1185.5 241V242M1187.5 242V268M1187.5 497V508M1189.5 537V547M1190.5 248V249M1192.5 559V560M1193.5 277V280M1193.5 559V560M1194.5 531V539M1196.5 549V550M1197.5 277V278M1198.5 250V251M1200.5 174V175M1200.5 531V545M1201.5 520V530M1202.5 601V602M1203.5 601V602M1204.5 234V287M1206.5 529V530M1207.5 280V281M1207.5 528V529M1208.5 243V244M1215.5 511V525M1216.5 272V273M1216.5 510V511M1218.5 537V588M1219.5 290V291M1220.5 588V589M1221.5 552V553M1222.5 529V552M1223.5 244V245M1223.5 501V502M1224.5 542V543M1225.5 244V245M1227.5 516V522M1228.5 254V255M1229.5 521V522M1230.5 254V255M1230.5 479V501M1231.5 264V265M1232.5 262V263M1232.5 614V615M1233.5 262V263M1233.5 515V614M1234.5 273V284M1234.5 515V556M1235.5 272V273M1236.5 209V210M1236.5 556V557M1238.5 210V263M1241.5 544V571M1242.5 252V253M1244.5 537V538M1245.5 535V537M1247.5 296V297M1247.5 527V534M1250.5 255V256M1251.5 525V531M1252.5 565V566M1253.5 173V174M1253.5 566V567M1254.5 174V272M1255.5 555V604M1256.5 604V605M1258.5 525V526M1259.5 257V258M1259.5 501V509M1260.5 212V213M1260.5 513V533M1262.5 533V534M1264.5 516V517M1265.5 247V248M1266.5 269V303M1266.5 567V568M1267.5 262V303M1267.5 544V567M1268.5 532V533M1270.5 532V533M1273.5 297V298M1275.5 252V253M1275.5 550V551M1276.5 303V304M1277.5 535V550M1278.5 502V503M1279.5 262V263M1281.5 210V211M1282.5 211V298M1282.5 516V517M1284.5 297V298M1285.5 534V535M1287.5 230V231M1288.5 604V605M1289.5 169V251M1290.5 168V169M1290.5 567V568M1292.5 300V313M1293.5 315V324M1295.5 239V240M1295.5 555V556M1296.5 241V281M1297.5 283V284M1299.5 229V230M1300.5 230V268M1302.5 233V269M1303.5 510V531M1304.5 531V532M1305.5 255V264M1306.5 473V474M1309.5 234V235M1309.5 624V625M1310.5 235V243M1310.5 625V626M1312.5 246V247M1316.5 276V277M1316.5 485V486M1318.5 210V211M1318.5 599V600M1319.5 211V324M1321.5 585V586M1322.5 275V276M1323.5 538V539M1325.5 248V255M1327.5 245V246M1327.5 557V558M1328.5 246V282M1329.5 288V289M1330.5 476V495M1332.5 225V226M1332.5 508V541M1333.5 226V231M1335.5 508V566M1336.5 270V271M1338.5 600V601M1339.5 267V268M1340.5 600V601M1341.5 297V321M1342.5 299V300M1342.5 538V557M1344.5 557V558M1345.5 259V289M1347.5 254V255M1347.5 466V496M1350.5 238V239M1351.5 239V285M1351.5 546V547M1352.5 287V324M1353.5 313V314M1354.5 494V495M1358.5 304V314M1358.5 482V483M1360.5 518V545M1360.5 553V554M1362.5 263V264M1363.5 497V507M1364.5 289V290M1364.5 537V538M1365.5 247V248M1366.5 247V248M1368.5 203V281M1368.5 536V537M1369.5 537V559M1370.5 202V203M1372.5 213V214M1373.5 213V214M1374.5 497V499M1375.5 253V254M1376.5 528V529M1377.5 254V286M1377.5 526V527M1380.5 521V522M1383.5 242V243M1384.5 559V560M1385.5 548V559M1388.5 238V239M1390.5 237V238M1391.5 488V502M1392.5 538V583M1393.5 583V584M1397.5 183V184M1398.5 184V208M1398.5 567V568M1399.5 535V567M1400.5 208V209M1401.5 251V252M1403.5 526V527M1405.5 290V291M1406.5 275V291M1407.5 262V263M1407.5 554V555M1409.5 214V245M1412.5 284V285M1413.5 260V281M1413.5 573V574M1414.5 573V574M1416.5 562V563M1417.5 230V231M1417.5 498V511M1418.5 230V231M1420.5 643V644M1421.5 554V643M1424.5 553V554M1425.5 506V507M1426.5 491V492M1427.5 532V533M1428.5 533V538M1429.5 538V539M1430.5 269V310M1431.5 304V305M1432.5 303V304M1432.5 482V483M1433.5 554V555M1435.5 233V234M1436.5 234V245M1437.5 514V570M1438.5 570V571" stroke="#4c72b0" stroke-width="1" stroke-opacity="0.76" fill="none" shape-rendering="crispEdges"/>
<path d="M202.5 302V321M204.5 523V524M205.5 258V273M207.5 251V252M209.5 251V252M210.5 258V259M211.5 249V250M212.5 249V250M212.5 505V533M213.5 306V307M214.5 579V580M215.5 578V579M216.5 506V532M217.5 278V279M217.5 533V534M220.5 257V258M223.5 526V527M224.5 525V526M225.5 556V557M226.5 285V286M231.5 247V248M233.5 247V248M235.5 231V232M238.5 554V555M239.5 298V299M240.5 306V307M241.5 305V306M243.5 279V280M243.5 541V583M244.5 238V239M245.5 238V239M248.5 614V615M249.5 562V613M251.5 189V190M252.5 201V202M253.5 498V499M254.5 202V255M255.5 257V267M256.5 267V268M257.5 285V286M258.5 286V287M258.5 538V539M260.5 246V247M263.5 253V261M264.5 520V521M265.5 248V249M266.5 544V545M268.5 550V551M271.5 296V297M271.5 498V499M273.5 238V247M275.5 561V562M276.5 231V232M281.5 261V262M282.5 261V262M282.5 599V600M283.5 280V281M283.5 494V495M284.5 298V299M285.5 298V299M287.5 281V288M288.5 535V536M290.5 277V278M291.5 235V236M291.5 522V523M293.5 557V558M294.5 556V557M296.5 234V235M298.5 235V269M298.5 530V544M299.5 545V546M300.5 312V315M302.5 243V244M302.5 620V621M303.5 243V244M304.5 279V280M305.5 284V298M305.5 511V512M307.5 559V560M309.5 235V265M309.5 481V559M310.5 265V266M311.5 527V528M312.5 528V529M315.5 521V522M318.5 528V529M322.5 283V284M326.5 277V281M328.5 253V254M328.5 517V518M330.5 254V312M334.5 510V527M335.5 515V516M337.5 278V279M337.5 515V516M339.5 293V303M339.5 537V538M340.5 304V305M344.5 256V279M345.5 279V280M345.5 542V543M350.5 509V512M355.5 581V582M358.5 213V214M358.5 538V574M362.5 296V297M363.5 527V528M368.5 293V294M368.5 569V570M369.5 263V264M369.5 501V568M370.5 493V500M374.5 502V525M375.5 205V272M375.5 525V526M378.5 565V566M379.5 258V259M379.5 564V565M380.5 496V588M381.5 589V590M383.5 275V285M385.5 274V275M385.5 565V566M386.5 564V565M387.5 279V280M389.5 536V541M390.5 279V280M390.5 622V623M393.5 576V577M395.5 266V295M395.5 541V542M396.5 540V541M397.5 561V562M398.5 258V259M399.5 258V259M402.5 213V214M403.5 214V215M404.5 292V293M404.5 631V632M405.5 632V633M409.5 263V264M410.5 265V299M411.5 300V301M412.5 569V570M413.5 265V266M414.5 265V266M414.5 493V517M415.5 269V270M418.5 493V537M419.5 243V261M421.5 198V199M422.5 199V200M423.5 270V271M426.5 219V220M426.5 500V505M427.5 220V221M427.5 499V500M428.5 229V230M430.5 523V524M431.5 291V292M432.5 499V500M434.5 529V530M439.5 205V206M441.5 558V559M445.5 235V236M446.5 475V521M450.5 517V518M452.5 583V584M453.5 584V585M455.5 299V316M456.5 526V527M457.5 255V256M457.5 556V557M459.5 556V557M463.5 253V306M464.5 252V253M467.5 283V284M468.5 521V522M471.5 568V569M472.5 567V568M474.5 543V544M476.5 563V564M477.5 564V565M479.5 499V500M481.5 583V584M483.5 549V583M485.5 246V325M485.5 550V600M486.5 244V245M487.5 244V245M487.5 600V601M488.5 280V281M494.5 594V595M496.5 267V275M496.5 500V501M497.5 266V267M498.5 215V216M501.5 270V271M501.5 504V505M503.5 198V199M504.5 491V492M508.5 277V278M508.5 558V559M509.5 281V282M510.5 255V256M514.5 242V243M515.5 577V578M518.5 234V235M521.5 522V541M523.5 240V241M526.5 280V314M527.5 504V542M529.5 295V296M529.5 582V583M530.5 581V582M532.5 503V514M535.5 274V275M537.5 272V273M539.5 177V178M539.5 521V522M540.5 537V538M541.5 295V296M542.5 266V267M542.5 545V546M544.5 580V581M546.5 291V292M546.5 548V549M550.5 255V256M551.5 280V323M554.5 304V305M555.5 588V589M556.5 589V590M560.5 550V551M561.5 214V215M562.5 213V214M564.5 268V269M564.5 514V515M565.5 504V513M566.5 261V262M567.5 263V276M571.5 199V200M572.5 200V201M573.5 580V581M575.5 303V304M576.5 570V571M578.5 501V509M581.5 294V295M584.5 513V514M585.5 292V293M585.5 479V480M586.5 293V296M586.5 526V527M587.5 530V531M588.5 531V532M590.5 528V529M591.5 528V529M592.5 147V148M594.5 281V282M596.5 238V239M597.5 475V496M598.5 239V251M598.5 475V476M599.5 495V496M600.5 496V510M602.5 529V538M605.5 266V267M607.5 266V267M610.5 547V548M611.5 271V272M613.5 564V565M614.5 536V537M616.5 532V533M617.5 254V255M618.5 256V289M618.5 506V507M619.5 305V306M619.5 528V529M620.5 253V254M620.5 529V530M622.5 254V267M624.5 281V282M626.5 627V628M627.5 626V627M631.5 312V313M632.5 236V237M633.5 565V566M634.5 237V241M635.5 474V475M636.5 313V314M638.5 306V307M638.5 537V551M639.5 559V560M641.5 291V292M641.5 517V518M642.5 265V313M645.5 230V231M646.5 231V232M646.5 487V488M647.5 328V331M650.5 256V257M654.5 235V236M656.5 235V236M657.5 258V279M659.5 279V280M659.5 509V512M662.5 286V300M663.5 250V285M665.5 249V250M666.5 518V519M668.5 271V272M672.5 232V258M675.5 541V542M676.5 270V271M676.5 512V541M678.5 271V309M679.5 521V522M680.5 594V595M681.5 270V271M684.5 251V252M685.5 504V505M686.5 252V253M686.5 536V615M688.5 615V616M689.5 198V199M690.5 200V262M691.5 263V264M691.5 556V557M693.5 269V270M695.5 257V258M696.5 479V548M698.5 231V232M698.5 540V541M705.5 557V558M706.5 300V301M709.5 275V276M709.5 499V500M710.5 255V275M711.5 489V490M712.5 254V255M712.5 484V485M714.5 283V284M715.5 512V513M716.5 250V277M716.5 508V511M717.5 533V534M718.5 534V535M719.5 535V639M721.5 232V233M721.5 639V640M724.5 562V563M726.5 280V281M727.5 294V295M728.5 275V294M728.5 562V563M729.5 186V274M730.5 468V490M731.5 185V186M733.5 214V215M734.5 249V250M736.5 225V226M739.5 282V287M741.5 292V293M742.5 291V292M743.5 523V524M750.5 276V277M752.5 260V261M752.5 524V533M753.5 261V262M754.5 280V281M757.5 247V276M758.5 225V226M758.5 523V524M759.5 224V225M759.5 509V510M760.5 498V508M761.5 522V596M762.5 597V598M764.5 253V254M765.5 509V557M766.5 508V509M767.5 278V279M767.5 508V533M769.5 601V602M770.5 600V601M771.5 303V316M771.5 545V546M772.5 524V544M773.5 242V243M775.5 243V254M775.5 538V545M777.5 256V257M778.5 235V236M778.5 548V549M780.5 235V236M781.5 255V256M783.5 584V585M785.5 200V201M786.5 199V200M786.5 513V525M789.5 527V528M791.5 263V264M791.5 524V525M793.5 273V274M793.5 515V516M794.5 273V274M794.5 550V551M795.5 306V307M797.5 577V578M798.5 289V290M798.5 576V577M799.5 247V248M800.5 197V198M800.5 513V515M801.5 196V197M803.5 246V247M806.5 514V515M807.5 514V515M808.5 298V299M810.5 518V519M811.5 552V553M813.5 262V265M817.5 251V252M819.5 545V546M821.5 238V277M822.5 545V546M823.5 519V520M825.5 545V546M828.5 305V306M828.5 556V557M829.5 314V315M829.5 555V556M830.5 243V244M830.5 520V521M831.5 531V532M839.5 547V548M841.5 546V547M842.5 509V510M843.5 509V510M845.5 262V263M846.5 528V548M847.5 213V262M847.5 561V562M848.5 211V212M848.5 562V563M850.5 231V232M850.5 549V550M852.5 550V551M854.5 263V264M855.5 264V265M855.5 567V568M856.5 295V296M858.5 535V546M861.5 259V260M862.5 561V562M863.5 548V560M864.5 213V214M864.5 509V510M866.5 560V561M869.5 513V543M871.5 143V144M871.5 545V546M872.5 476V545M874.5 511V512M876.5 262V282M877.5 286V287M877.5 557V558M878.5 558V559M880.5 259V260M882.5 582V583M883.5 270V271M883.5 581V582M884.5 565V566M885.5 270V271M887.5 526V527M892.5 275V276M896.5 296V297M897.5 296V297M898.5 206V207M899.5 205V206M899.5 554V555M901.5 545V546M902.5 498V499M903.5 515V516M911.5 174V175M913.5 175V285M913.5 579V580M915.5 579V580M918.5 228V229M919.5 227V228M919.5 542V543M921.5 541V542M923.5 193V194M924.5 192V193M927.5 588V589M928.5 565V566M930.5 573V574M932.5 289V290M937.5 315V316M937.5 643V644M939.5 545V643M940.5 226V227M941.5 264V265M941.5 526V544M945.5 518V519M949.5 206V207M951.5 580V581M952.5 214V215M953.5 267V272M957.5 600V601M958.5 511V513M961.5 533V534M963.5 181V182M967.5 262V263M968.5 262V263M972.5 559V560M973.5 491V566M975.5 241V242M976.5 251V252M978.5 523V524M979.5 523V524M980.5 265V273M981.5 257V258M982.5 521V522M983.5 235V236M984.5 237V293M984.5 581V582M986.5 584V585M988.5 279V280M990.5 524V525M991.5 490V496M991.5 497V499M992.5 276V277M994.5 595V596M995.5 287V291M995.5 594V595M997.5 257V258M998.5 504V507M999.5 253V254M999.5 508V509M1002.5 260V291M1002.5 503V510M1003.5 550V551M1005.5 673V674M1006.5 123V124M1010.5 627V628M1012.5 537V627M1015.5 299V300M1016.5 570V580M1017.5 265V267M1018.5 264V265M1019.5 260V261M1019.5 619V620M1022.5 249V250M1027.5 282V283M1028.5 555V556M1030.5 295V296M1031.5 295V296M1032.5 613V614M1034.5 228V229M1034.5 529V533M1036.5 534V549M1039.5 215V216M1039.5 512V540M1040.5 214V215M1040.5 542V551M1041.5 552V553M1042.5 250V280M1044.5 281V282M1044.5 547V548M1045.5 535V546M1047.5 230V231M1047.5 518V534M1048.5 230V231M1048.5 489V490M1049.5 181V182M1050.5 180V181M1050.5 535V536M1051.5 534V535M1052.5 538V539M1055.5 539V540M1057.5 538V539M1058.5 482V530M1059.5 253V254M1060.5 254V255M1063.5 577V578M1064.5 547V548M1066.5 495V547M1067.5 269V270M1069.5 559V560M1071.5 562V563M1072.5 275V276M1073.5 196V238M1074.5 518V519M1075.5 536V600M1076.5 260V261M1076.5 601V602M1079.5 244V245M1081.5 551V552M1085.5 274V275M1086.5 273V274M1086.5 486V488M1086.5 494V495M1086.5 510V517M1088.5 285V288M1088.5 553V554M1089.5 554V555M1090.5 565V566M1091.5 249V250M1096.5 562V563M1097.5 556V561M1098.5 513V534M1099.5 513V554M1100.5 232V288M1102.5 264V265M1104.5 533V534M1106.5 573V574M1107.5 246V247M1107.5 574V575M1111.5 271V272M1112.5 247V248M1115.5 246V247M1116.5 254V255M1117.5 279V280M1118.5 550V551M1120.5 280V288M1123.5 208V209M1129.5 264V265M1130.5 550V557M1133.5 287V288M1135.5 555V556M1139.5 549V550M1144.5 275V276M1145.5 276V277M1146.5 276V277M1146.5 519V520M1147.5 519V520M1148.5 242V243M1148.5 518V519M1149.5 527V528M1151.5 526V527M1152.5 515V516M1153.5 265V266M1155.5 563V566M1157.5 270V271M1160.5 260V261M1166.5 279V280M1167.5 279V280M1167.5 512V546M1168.5 284V299M1168.5 547V548M1169.5 269V270M1172.5 321V322M1173.5 326V327M1174.5 283V284M1175.5 198V283M1175.5 525V526M1176.5 535V536M1177.5 197V198M1178.5 572V573M1181.5 567V568M1185.5 563V564M1186.5 563V564M1187.5 241V242M1187.5 508V509M1188.5 290V291M1188.5 519V520M1189.5 248V249M1190.5 547V548M1191.5 249V276M1195.5 549V550M1196.5 236V254M1197.5 255V277M1197.5 507V508M1197.5 529V548M1198.5 545V546M1199.5 174V175M1201.5 175V247M1203.5 302V303M1204.5 233V234M1205.5 232V233M1207.5 245V280M1208.5 503V557M1209.5 243V244M1210.5 283V284M1212.5 514V528M1213.5 267V268M1214.5 269V279M1214.5 526V527M1215.5 525V526M1216.5 512V514M1217.5 272V273M1217.5 535V536M1218.5 588V589M1222.5 284V285M1223.5 502V511M1226.5 523V524M1227.5 269V270M1227.5 502V516M1228.5 521V522M1229.5 253V254M1230.5 501V521M1238.5 209V210M1240.5 544V545M1241.5 571V572M1242.5 572V573M1244.5 252V253M1246.5 280V281M1246.5 534V535M1250.5 238V255M1251.5 255V256M1260.5 533V534M1261.5 208V212M1262.5 206V207M1264.5 247V248M1266.5 248V269M1272.5 274V275M1272.5 584V585M1273.5 253V297M1274.5 584V585M1277.5 550V551M1278.5 160V161M1279.5 162V262M1283.5 298V299M1285.5 230V231M1286.5 604V605M1288.5 247V248M1289.5 567V568M1291.5 511V566M1292.5 299V300M1293.5 314V315M1293.5 553V554M1294.5 239V240M1296.5 240V241M1296.5 556V557M1297.5 282V283M1302.5 232V233M1305.5 254V255M1305.5 531V532M1306.5 264V265M1307.5 493V526M1312.5 529V544M1313.5 497V498M1314.5 265V270M1315.5 493V494M1320.5 599V600M1324.5 255V256M1325.5 247V248M1325.5 531V532M1326.5 526V527M1328.5 558V559M1329.5 283V288M1334.5 541V542M1335.5 270V271M1336.5 566V567M1337.5 267V268M1338.5 266V267M1339.5 601V602M1340.5 296V297M1341.5 513V514M1343.5 298V299M1345.5 258V259M1346.5 255V257M1347.5 496V497M1349.5 534V546M1352.5 286V287M1355.5 491V494M1356.5 256V267M1358.5 303V304M1358.5 483V516M1359.5 302V303M1359.5 517V518M1360.5 290V291M1361.5 554V555M1368.5 202V203M1371.5 559V560M1374.5 499V528M1378.5 260V287M1378.5 526V527M1379.5 259V260M1381.5 281V282M1381.5 521V522M1384.5 239V240M1386.5 238V239M1387.5 547V548M1388.5 522V523M1389.5 497V521M1391.5 502V537M1401.5 195V251M1401.5 534V535M1402.5 194V195M1408.5 555V556M1409.5 213V214M1409.5 554V555M1410.5 212V213M1411.5 534V535M1412.5 483V534M1413.5 259V260M1423.5 554V555M1426.5 228V229M1426.5 492V532M1427.5 230V264M1430.5 268V269M1430.5 538V539M1431.5 506V507M1432.5 299V303M1433.5 249V250M1435.5 513V554M1439.5 270V271" stroke="#4c72b0" stroke-width="1" stroke-opacity="0.49" fill="none" shape-rendering="crispEdges"/>
<path d="M200.5 288V289M200.5 630V631M202.5 630V631M204.5 273V274M205.5 257V258M206.5 256V257M206.5 581V582M208.5 250V251M208.5 581V582M209.5 549V550M210.5 250V258M211.5 534V535M212.5 533V534M213.5 274V306M213.5 579V580M214.5 221V222M216.5 221V222M216.5 532V533M218.5 582V583M219.5 256V257M219.5 582V583M221.5 532V533M222.5 526V527M226.5 264V285M227.5 276V277M228.5 564V569M229.5 276V277M230.5 286V287M230.5 564V565M233.5 232V247M233.5 586V587M235.5 586V587M236.5 234V235M236.5 545V546M238.5 234V235M239.5 555V556M240.5 299V306M241.5 511V512M242.5 279V280M243.5 239V279M247.5 614V615M249.5 613V614M250.5 188V189M250.5 561V562M254.5 524V525M255.5 256V257M256.5 613V614M257.5 613V614M259.5 246V247M261.5 246V247M262.5 478V554M263.5 249V253M264.5 261V262M265.5 520V521M267.5 176V177M269.5 176V177M269.5 551V552M271.5 499V505M272.5 532V533M273.5 561V562M276.5 531V532M277.5 530V531M278.5 231V232M279.5 269V270M280.5 262V269M281.5 600V601M284.5 569V570M286.5 569V570M287.5 280V281M288.5 262V263M289.5 262V263M290.5 523V524M292.5 234V235M292.5 557V558M294.5 254V255M294.5 557V595M297.5 529V530M298.5 544V545M299.5 287V312M300.5 311V312M301.5 288V289M301.5 621V622M303.5 526V527M304.5 244V279M304.5 512V513M305.5 283V284M307.5 233V234M308.5 233V234M309.5 234V235M310.5 508V509M311.5 229V230M312.5 229V230M313.5 251V254M313.5 255V275M313.5 528V529M314.5 492V493M317.5 223V288M318.5 221V222M319.5 221V222M319.5 528V529M320.5 265V266M320.5 566V567M321.5 267V283M321.5 566V567M322.5 543V544M323.5 275V276M325.5 275V276M325.5 545V546M326.5 276V277M328.5 518V519M330.5 253V254M331.5 293V294M331.5 601V602M332.5 268V293M333.5 256V257M333.5 601V602M334.5 147V148M334.5 527V541M336.5 147V148M336.5 516V517M338.5 278V279M338.5 537V538M340.5 532V537M341.5 304V305M341.5 483V491M342.5 528V529M343.5 249V250M344.5 250V251M345.5 256V279M347.5 512V513M349.5 224V225M351.5 224V225M352.5 507V508M353.5 272V273M354.5 582V583M355.5 272V273M356.5 276V302M356.5 513V514M358.5 574V575M359.5 212V213M359.5 575V576M366.5 278V279M366.5 514V520M367.5 293V294M367.5 569V570M369.5 212V263M369.5 568V569M370.5 500V501M371.5 554V555M372.5 554V555M373.5 553V554M374.5 203V204M375.5 204V205M376.5 272V273M377.5 258V259M378.5 566V573M380.5 588V589M381.5 264V265M382.5 589V590M384.5 565V566M386.5 279V280M387.5 220V279M388.5 218V219M388.5 542V543M389.5 218V219M389.5 541V542M390.5 253V279M391.5 233V234M391.5 623V624M392.5 233V234M395.5 542V576M397.5 259V265M399.5 580V581M400.5 265V266M401.5 213V214M401.5 580V581M403.5 485V491M406.5 632V633M408.5 263V264M409.5 506V507M410.5 264V265M410.5 522V523M412.5 266V309M413.5 569V570M414.5 517V527M415.5 209V218M415.5 219V227M415.5 231V236M415.5 242V245M415.5 540V541M418.5 537V538M419.5 538V539M420.5 198V199M420.5 538V539M421.5 511V512M423.5 609V610M424.5 285V286M424.5 609V610M425.5 219V220M425.5 560V608M426.5 505V506M428.5 563V564M429.5 229V230M429.5 563V564M430.5 524V544M430.5 545V549M432.5 281V290M433.5 233V234M435.5 233V234M436.5 256V257M436.5 529V530M438.5 204V205M438.5 560V561M440.5 560V561M442.5 201V202M442.5 558V559M443.5 555V556M444.5 201V202M445.5 555V556M446.5 248V249M446.5 521V522M447.5 528V551M448.5 264V265M449.5 264V265M450.5 255V256M451.5 517V518M454.5 290V291M454.5 584V585M455.5 298V299M455.5 539V540M458.5 245V256M458.5 557V558M460.5 537V538M465.5 252V253M465.5 533V534M466.5 282V283M467.5 520V531M470.5 303V304M473.5 498V499M474.5 267V268M475.5 184V185M475.5 551V552M477.5 184V185M478.5 284V285M478.5 564V565M480.5 579V580M481.5 188V208M481.5 211V213M481.5 215V295M484.5 306V325M485.5 245V246M489.5 289V290M489.5 528V544M491.5 251V252M493.5 595V596M494.5 223V224M495.5 223V224M495.5 500V501M496.5 237V267M497.5 524V525M499.5 214V215M503.5 504V505M505.5 200V201M506.5 200V201M507.5 559V560M509.5 256V281M510.5 197V255M510.5 547V548M512.5 522V523M513.5 244V248M514.5 578V579M515.5 237V242M516.5 235V236M516.5 620V621M518.5 620V621M519.5 542V543M520.5 254V255M520.5 542V543M521.5 541V542M522.5 278V279M522.5 593V594M524.5 593V594M525.5 240V241M525.5 519V520M526.5 278V280M527.5 314V315M528.5 297V308M528.5 582V583M529.5 240V295M531.5 515V516M532.5 244V289M532.5 514V515M533.5 555V556M535.5 555V556M536.5 536V537M538.5 536V537M541.5 545V546M542.5 243V247M545.5 282V283M547.5 262V263M547.5 548V549M548.5 255V256M548.5 549V550M550.5 557V558M551.5 279V280M551.5 557V558M552.5 278V279M552.5 480V556M553.5 278V279M553.5 513V514M557.5 589V590M559.5 548V549M560.5 239V240M561.5 551V552M563.5 514V515M565.5 261V262M565.5 513V514M566.5 593V594M567.5 262V263M568.5 593V594M570.5 199V200M570.5 589V590M572.5 589V590M573.5 262V263M575.5 270V303M575.5 571V572M576.5 282V283M577.5 268V269M578.5 509V510M579.5 268V269M581.5 266V294M582.5 230V231M582.5 521V522M584.5 230V231M586.5 284V293M587.5 252V283M589.5 531V532M591.5 146V147M594.5 254V281M594.5 523V524M594.5 540V544M594.5 546V571M595.5 252V253M595.5 502V503M596.5 502V503M597.5 496V502M598.5 476V495M603.5 554V555M604.5 270V303M605.5 554V555M606.5 265V266M608.5 247V267M609.5 245V246M610.5 245V246M612.5 263V268M612.5 269V296M612.5 565V566M614.5 183V184M616.5 183V184M618.5 255V256M621.5 529V530M622.5 517V518M624.5 524V525M625.5 281V282M626.5 300V301M627.5 248V249M628.5 234V235M629.5 513V514M630.5 234V235M634.5 565V566M635.5 241V242M636.5 552V553M637.5 308V314M637.5 552V553M638.5 551V552M641.5 206V220M641.5 518V559M642.5 600V601M643.5 261V262M644.5 600V601M645.5 534V535M647.5 307V328M647.5 531V532M648.5 292V293M648.5 531V532M649.5 541V542M651.5 237V238M653.5 237V238M653.5 560V561M655.5 560V561M656.5 527V528M659.5 512V513M660.5 513V514M662.5 531V532M664.5 531V532M667.5 271V272M668.5 513V514M669.5 194V272M669.5 512V513M670.5 192V193M670.5 648V649M671.5 192V193M672.5 231V232M672.5 648V649M676.5 541V565M680.5 269V270M681.5 595V596M683.5 563V564M687.5 301V302M688.5 198V199M690.5 199V200M692.5 269V270M692.5 557V581M695.5 549V550M696.5 231V232M696.5 548V549M699.5 247V248M701.5 222V223M701.5 683V684M703.5 222V223M703.5 683V684M704.5 557V558M705.5 299V300M707.5 298V299M708.5 500V501M711.5 490V494M713.5 267V268M714.5 268V283M714.5 512V513M715.5 277V278M716.5 249V250M716.5 511V526M717.5 248V249M721.5 225V232M723.5 232V233M724.5 236V237M726.5 541V542M730.5 490V562M731.5 548V549M732.5 549V554M734.5 574V575M735.5 232V233M736.5 574V575M737.5 224V225M737.5 554V555M739.5 281V282M739.5 554V555M741.5 549V550M744.5 580V581M745.5 283V284M746.5 191V192M746.5 580V581M748.5 191V192M749.5 496V497M750.5 523V524M751.5 260V261M754.5 278V280M754.5 534V553M755.5 575V576M757.5 575V576M760.5 508V509M761.5 596V597M762.5 253V254M763.5 597V598M765.5 271V272M767.5 533V534M768.5 233V234M768.5 601V602M770.5 233V234M772.5 544V545M773.5 537V538M775.5 545V546M776.5 255V256M776.5 546V547M777.5 546V547M779.5 234V235M780.5 548V549M781.5 584V585M782.5 254V255M784.5 263V264M784.5 551V552M786.5 525V534M786.5 536V540M787.5 199V200M788.5 228V229M789.5 228V229M790.5 527V528M792.5 266V267M795.5 297V306M796.5 294V295M796.5 577V578M802.5 196V197M803.5 512V531M804.5 512V513M805.5 247V270M805.5 512V513M806.5 269V270M808.5 537V538M809.5 537V538M810.5 229V230M810.5 519V551M812.5 229V230M812.5 604V605M813.5 261V262M814.5 604V605M815.5 253V254M815.5 520V529M816.5 251V252M816.5 572V573M818.5 213V214M819.5 546V598M820.5 213V214M820.5 545V546M824.5 198V199M824.5 519V520M825.5 546V549M826.5 198V199M826.5 550V551M827.5 259V260M827.5 556V557M829.5 306V314M831.5 242V243M833.5 267V268M834.5 194V195M834.5 541V542M835.5 194V195M835.5 551V552M836.5 214V215M837.5 551V552M838.5 214V215M839.5 285V286M840.5 232V233M842.5 180V181M844.5 180V181M845.5 549V550M846.5 548V549M847.5 212V213M849.5 211V212M849.5 562V563M851.5 550V551M853.5 263V264M853.5 535V550M854.5 567V568M857.5 534V535M858.5 236V237M858.5 546V547M859.5 177V178M860.5 177V178M861.5 179V259M861.5 561V562M863.5 212V213M863.5 560V561M864.5 510V548M865.5 243V244M865.5 509V510M866.5 272V280M869.5 543V571M870.5 142V143M870.5 545V546M873.5 230V231M873.5 511V512M875.5 511V512M879.5 558V559M880.5 219V259M880.5 517V518M881.5 582V583M885.5 223V270M886.5 564V565M888.5 214V215M888.5 509V510M889.5 519V520M890.5 214V215M891.5 557V558M892.5 581V582M893.5 262V291M893.5 581V582M894.5 534V580M895.5 507V508M896.5 508V512M898.5 555V556M900.5 205V206M900.5 546V547M904.5 202V205M904.5 585V586M906.5 204V205M906.5 585V586M907.5 476V483M908.5 253V254M909.5 254V255M909.5 583V584M910.5 583V584M911.5 521V522M918.5 529V530M918.5 544V566M922.5 271V272M923.5 533V534M926.5 211V212M926.5 589V590M928.5 211V212M929.5 298V299M929.5 573V574M931.5 573V574M932.5 230V289M932.5 513V581M933.5 250V251M934.5 218V219M936.5 218V219M936.5 499V514M939.5 225V226M940.5 544V545M942.5 555V556M943.5 174V175M944.5 555V556M945.5 174V175M946.5 241V242M946.5 514V515M947.5 516V517M948.5 205V206M949.5 516V517M951.5 213V214M953.5 251V267M954.5 250V251M954.5 543V544M955.5 250V251M956.5 601V602M957.5 260V261M958.5 321V322M958.5 513V514M959.5 321V322M959.5 533V534M960.5 300V301M962.5 560V561M963.5 561V562M966.5 263V283M966.5 548V549M967.5 592V593M969.5 594V595M970.5 272V273M971.5 228V229M971.5 594V595M973.5 566V567M974.5 567V568M975.5 567V570M977.5 230V231M979.5 230V231M980.5 506V523M981.5 521V522M982.5 235V236M983.5 581V582M984.5 236V237M985.5 291V292M985.5 584V585M986.5 279V280M987.5 550V583M989.5 293V294M989.5 525V526M990.5 288V289M991.5 288V289M991.5 496V497M991.5 499V502M993.5 595V596M994.5 276V277M995.5 286V287M996.5 476V477M998.5 507V508M1000.5 252V253M1000.5 508V509M1001.5 491V493M1002.5 259V260M1005.5 122V123M1008.5 186V187M1008.5 536V537M1009.5 563V564M1010.5 191V192M1011.5 282V283M1013.5 506V508M1014.5 568V569M1015.5 569V570M1016.5 268V308M1016.5 580V581M1018.5 620V621M1020.5 259V260M1020.5 513V514M1022.5 238V249M1022.5 508V509M1025.5 189V190M1025.5 534V535M1026.5 189V190M1027.5 226V228M1027.5 231V282M1027.5 556V557M1028.5 274V275M1029.5 274V275M1029.5 549V550M1030.5 275V295M1031.5 614V615M1033.5 535V536M1034.5 533V535M1035.5 227V228M1037.5 279V304M1038.5 275V276M1039.5 540V541M1040.5 551V552M1041.5 214V215M1042.5 249V250M1042.5 552V553M1043.5 281V282M1043.5 547V548M1045.5 546V547M1047.5 534V535M1048.5 490V517M1049.5 535V536M1054.5 261V262M1054.5 538V539M1056.5 261V262M1057.5 268V269M1058.5 253V254M1059.5 511V512M1061.5 272V273M1062.5 212V213M1062.5 578V579M1063.5 212V213M1064.5 214V272M1065.5 269V270M1067.5 559V560M1069.5 221V222M1069.5 560V562M1071.5 221V222M1073.5 195V196M1074.5 194V195M1074.5 519V535M1075.5 600V601M1077.5 259V260M1077.5 601V602M1078.5 515V516M1079.5 525V526M1081.5 244V245M1083.5 541V568M1084.5 289V290M1086.5 517V518M1087.5 273V274M1087.5 511V512M1088.5 284V285M1090.5 249V250M1091.5 566V567M1092.5 250V258M1092.5 566V572M1095.5 272V273M1095.5 562V563M1097.5 272V273M1097.5 561V562M1102.5 514V515M1103.5 523V524M1104.5 264V265M1105.5 276V290M1105.5 534V535M1108.5 574V575M1110.5 270V271M1110.5 537V538M1111.5 540V541M1113.5 224V225M1113.5 549V550M1114.5 224V225M1115.5 226V246M1115.5 549V550M1116.5 494V495M1119.5 550V551M1120.5 555V556M1121.5 555V556M1123.5 552V553M1125.5 251V252M1125.5 552V553M1126.5 536V537M1127.5 229V230M1128.5 229V230M1129.5 201V211M1129.5 214V221M1129.5 228V264M1130.5 199V200M1130.5 557V558M1131.5 199V200M1134.5 182V287M1135.5 180V181M1136.5 180V181M1136.5 551V552M1137.5 277V278M1139.5 550V551M1139.5 569V571M1139.5 578V585M1139.5 588V597M1140.5 317V318M1140.5 478V480M1141.5 224V225M1141.5 477V478M1142.5 523V524M1143.5 224V225M1143.5 556V557M1145.5 556V557M1149.5 242V243M1151.5 205V206M1152.5 205V206M1153.5 207V265M1154.5 562V563M1155.5 285V286M1155.5 566V567M1156.5 567V568M1158.5 541V588M1161.5 310V311M1161.5 473V474M1162.5 225V226M1163.5 225V226M1163.5 474V551M1164.5 255V256M1165.5 255V256M1167.5 546V547M1169.5 547V548M1171.5 268V269M1172.5 533V534M1174.5 533V534M1175.5 526V535M1179.5 210V211M1180.5 218V219M1180.5 568V569M1181.5 218V219M1182.5 310V311M1182.5 564V565M1184.5 303V304M1184.5 564V565M1186.5 240V241M1187.5 509V510M1191.5 547V559M1193.5 276V277M1194.5 539V540M1195.5 234V235M1196.5 235V236M1197.5 508V529M1197.5 548V549M1200.5 545V546M1201.5 530V531M1202.5 303V304M1204.5 585V601M1205.5 584V585M1206.5 232V233M1207.5 244V245M1207.5 529V530M1208.5 557V558M1210.5 560V561M1211.5 560V561M1212.5 528V560M1213.5 255V267M1213.5 526V527M1214.5 268V269M1215.5 273V280M1216.5 511V512M1216.5 514V533M1219.5 208V290M1219.5 589V590M1220.5 206V207M1221.5 206V207M1224.5 243V244M1226.5 269V270M1226.5 524V542M1227.5 522V523M1231.5 614V615M1233.5 614V615M1234.5 263V273M1234.5 556V557M1237.5 208V209M1237.5 558V559M1238.5 558V559M1239.5 286V287M1239.5 544V545M1240.5 230V231M1241.5 230V231M1242.5 232V252M1243.5 251V252M1243.5 572V573M1245.5 537V538M1248.5 236V237M1248.5 527V528M1249.5 236V237M1250.5 237V238M1251.5 531V532M1252.5 173V174M1252.5 566V567M1254.5 173V174M1254.5 566V567M1255.5 324V325M1255.5 604V605M1256.5 208V269M1257.5 206V207M1257.5 604V605M1258.5 206V207M1259.5 509V525M1261.5 207V208M1261.5 534V535M1263.5 206V207M1263.5 516V517M1265.5 567V568M1267.5 261V262M1267.5 567V568M1268.5 212V213M1269.5 212V213M1269.5 533V534M1270.5 214V253M1271.5 527V528M1273.5 252V253M1276.5 551V552M1277.5 160V161M1279.5 161V162M1279.5 539V540M1280.5 210V211M1281.5 539V540M1282.5 210V211M1283.5 616V617M1284.5 287V297M1284.5 616V617M1286.5 229V230M1287.5 605V606M1289.5 168V169M1291.5 168V169M1291.5 566V567M1292.5 495V496M1297.5 559V560M1298.5 229V230M1298.5 559V560M1300.5 229V230M1300.5 523V543M1303.5 184V185M1303.5 531V532M1304.5 184V185M1306.5 474V492M1307.5 526V527M1308.5 234V235M1308.5 583V584M1309.5 625V626M1310.5 234V235M1311.5 625V626M1312.5 244V246M1313.5 246V247M1314.5 264V265M1314.5 494V497M1315.5 269V270M1316.5 486V516M1317.5 210V211M1319.5 210V211M1319.5 600V601M1321.5 252V253M1322.5 254V275M1322.5 541V542M1322.5 566V569M1322.5 571V585M1323.5 274V275M1324.5 532V538M1326.5 245V246M1328.5 245V246M1329.5 234V283M1330.5 495V496M1331.5 225V226M1332.5 541V542M1333.5 225V226M1337.5 566V567M1341.5 514V519M1342.5 557V558M1344.5 289V290M1344.5 558V610M1345.5 673V674M1346.5 673V674M1348.5 254V255M1348.5 533V534M1349.5 238V239M1351.5 238V239M1352.5 536V537M1353.5 536V537M1354.5 495V535M1355.5 254V255M1356.5 255V256M1357.5 267V268M1357.5 501V502M1358.5 516V517M1359.5 297V299M1359.5 301V302M1361.5 263V264M1363.5 263V264M1363.5 507V508M1364.5 248V289M1365.5 538V564M1366.5 565V566M1367.5 276V277M1367.5 565V566M1369.5 201V202M1369.5 559V560M1371.5 313V314M1372.5 508V509M1374.5 215V261M1374.5 528V529M1376.5 252V253M1377.5 253V254M1379.5 522V523M1380.5 259V260M1382.5 242V243M1382.5 515V516M1383.5 559V560M1385.5 559V560M1386.5 548V549M1387.5 237V238M1389.5 237V238M1389.5 521V522M1390.5 496V497M1391.5 237V238M1392.5 297V298M1392.5 583V584M1393.5 279V280M1394.5 279V280M1394.5 583V584M1395.5 280V283M1395.5 517V518M1396.5 183V184M1396.5 485V486M1397.5 567V568M1398.5 183V184M1399.5 207V208M1399.5 567V568M1400.5 535V536M1402.5 518V519M1403.5 194V195M1403.5 527V545M1404.5 249V250M1404.5 546V547M1405.5 546V547M1406.5 515V516M1408.5 247V262M1410.5 534V535M1411.5 212V213M1412.5 534V573M1414.5 239V240M1415.5 225V226M1415.5 563V564M1416.5 225V226M1417.5 511V512M1418.5 512V513M1419.5 271V272M1419.5 643V644M1420.5 218V219M1421.5 218V219M1421.5 643V644M1422.5 266V267M1424.5 313V314M1425.5 228V229M1425.5 507V508M1427.5 229V230M1429.5 267V268M1432.5 298V299M1434.5 233V234M1435.5 554V555M1436.5 513V514M1437.5 260V261M1437.5 570V571M1439.5 570V571" stroke="#4c72b0" stroke-width="1" stroke-opacity="0.24" fill="none" shape-rendering="crispEdges"/>
</g>
<path d="M200.0 684.50H1440.0M200.0 628.50H1440.0M200.0 572.50H1440.0M200.0 516.50H1440.0M200.0 460.50H1440.0M200.0 404.50H1440.0M200.0 348.50H1440.0M200.0 292.50H1440.0M200.0 236.50H1440.0M200.0 180.50H1440.0M200.0 124.50H1440.0" stroke="#fff" stroke-width="1.39" fill="none"/>
<path d="M636.00 124.00V684.00M713.00 124.00V684.00M791.00 124.00V684.00M878.00 124.00V684.00M1014.00 124.00V684.00M1208.00 124.00V684.00M1217.00 124.00V684.00" stroke="#000" stroke-width="2.08" fill="none"/>
<path d="M200.52 124.00V684.00" stroke="#000" stroke-width="1.04" fill="none"/>
<path d="M200.0 180.00H1440.0" stroke="#c44e52" stroke-width="2.08" fill="none"/>
<polyline points="200.00,204.00 209.69,125.00 219.38,123.80 229.06,123.90 238.75,123.90 248.44,123.90 258.12,123.90 267.81,123.90 277.50,123.90 287.19,123.90 296.88,123.90 306.56,123.90 316.25,123.90 325.94,123.90 335.62,124.55 345.31,125.75 355.00,127.25 364.69,127.85 374.38,127.85 384.06,134.30 393.75,162.20 403.44,166.70 413.12,148.70 422.81,137.75 432.50,143.30 442.19,154.30 451.88,140.00 461.56,125.00 471.25,124.25 480.94,124.00 490.62,124.00 500.31,124.00 510.00,124.00 519.69,124.00 529.38,124.40 539.06,126.20 548.75,132.20 558.44,133.70 568.12,127.25 577.81,125.15 587.50,125.00 597.19,125.30 606.88,124.40 616.56,124.25 626.25,126.00 635.94,139.70 645.62,203.75 655.31,378.00 665.00,613.00 674.69,668.10 684.38,672.20 694.06,665.10 703.75,632.50 713.44,362.00 723.12,128.75 732.81,124.00 742.50,124.00 752.19,124.00 761.88,124.00 771.56,124.00 781.25,124.40 790.94,131.00 800.62,199.40 810.31,449.00 820.00,597.00 829.69,661.75 839.38,679.00 849.06,679.00 858.75,658.00 868.44,403.00 878.12,200.00 887.81,154.25 897.50,128.00 907.19,124.25 916.88,124.00 926.56,124.00 936.25,124.00 945.94,124.00 955.62,124.00 965.31,124.00 975.00,124.55 984.69,126.95 994.38,130.85 1004.06,131.30 1013.75,140.75 1023.44,268.75 1033.12,576.00 1042.81,663.60 1052.50,680.10 1062.19,683.40 1071.88,683.70 1081.56,683.70 1091.25,683.70 1100.94,683.70 1110.62,683.40 1120.31,683.10 1130.00,682.90 1139.69,682.90 1149.38,682.90 1159.06,681.60 1168.75,589.40 1178.44,379.40 1188.12,614.50 1197.81,637.40 1207.50,440.00 1217.19,157.00 1226.88,247.50 1236.56,605.50 1246.25,654.25 1255.94,631.40 1265.62,647.50 1275.31,677.10 1285.00,676.75 1294.69,478.00 1304.38,243.25 1314.06,380.00 1323.75,516.25 1333.44,400.00 1343.12,396.75 1352.81,619.00 1362.50,677.20 1372.19,682.00 1381.88,683.20 1391.56,683.60 1401.25,683.60 1410.94,683.00 1420.62,682.60 1430.31,683.20" stroke="#55a868" stroke-width="2.08" fill="none" stroke-linejoin="round" stroke-linecap="square"/>
<path d="M192.00 683.90H200.0M192.00 654.90H200.0M192.00 626.90H200.0M192.00 597.90H200.0M192.00 569.90H200.0M192.00 540.90H200.0M192.00 512.90H200.0M192.00 483.90H200.0M192.00 455.90H200.0M192.00 426.90H200.0M192.00 398.90H200.0M192.00 369.90H200.0M192.00 340.90H200.0M192.00 312.90H200.0M192.00 283.90H200.0M192.00 255.90H200.0M192.00 226.90H200.0M192.00 198.90H200.0M192.00 169.90H200.0M192.00 141.90H200.0M192.00 112.90H200.0M1440.0 683.90H1448.00M1440.0 627.90H1448.00M1440.0 571.90H1448.00M1440.0 515.90H1448.00M1440.0 459.90H1448.00M1440.0 403.90H1448.00M1440.0 347.90H1448.00M1440.0 291.90H1448.00M1440.0 235.90H1448.00M1440.0 179.90H1448.00M1440.0 123.90H1448.00" stroke="#262626" stroke-width="2" fill="none"/>
<rect x="200.0" y="96.0" width="1240.0" height="616.0" fill="none" stroke="#fff" stroke-width="1.74"/>
<rect x="1120.5" y="693.6" width="213.9" height="26.6" rx="3.5" ry="3.5" fill="#eaeaf2" fill-opacity="0.8" stroke="#cccccc" stroke-opacity="0.8" stroke-width="1.39"/>
<path d="M1125.4 706H1157.6" stroke="#4c72b0" stroke-width="2.08" fill="none"/>
<text class="tk" style="letter-spacing:0" x="1169.2" y="711.3">waveform with noise</text>
<text class="tk" x="186.8" y="690.10" text-anchor="end">−1.0</text>
<text class="tk" x="186.8" y="661.57" text-anchor="end">−0.9</text>
<text class="tk" x="186.8" y="633.04" text-anchor="end">−0.8</text>
<text class="tk" x="186.8" y="604.51" text-anchor="end">−0.7</text>
<text class="tk" x="186.8" y="575.98" text-anchor="end">−0.6</text>
<text class="tk" x="186.8" y="547.45" text-anchor="end">−0.5</text>
<text class="tk" x="186.8" y="518.92" text-anchor="end">−0.4</text>
<text class="tk" x="186.8" y="490.39" text-anchor="end">−0.3</text>
<text class="tk" x="186.8" y="461.86" text-anchor="end">−0.2</text>
<text class="tk" x="186.8" y="433.33" text-anchor="end">−0.1</text>
<text class="tk" x="186.8" y="404.80" text-anchor="end">0.0</text>
<text class="tk" x="186.8" y="376.27" text-anchor="end">0.1</text>
<text class="tk" x="186.8" y="347.74" text-anchor="end">0.2</text>
<text class="tk" x="186.8" y="319.21" text-anchor="end">0.3</text>
<text class="tk" x="186.8" y="290.68" text-anchor="end">0.4</text>
<text class="tk" x="186.8" y="262.15" text-anchor="end">0.5</text>
<text class="tk" x="186.8" y="233.62" text-anchor="end">0.6</text>
<text class="tk" x="186.8" y="205.09" text-anchor="end">0.7</text>
<text class="tk" x="186.8" y="176.56" text-anchor="end">0.8</text>
<text class="tk" x="186.8" y="148.03" text-anchor="end">0.9</text>
<text class="tk" x="186.8" y="119.50" text-anchor="end">1.0</text>
<text class="tk" x="1453.0" y="689.50">0.0</text>
<text class="tk" x="1453.0" y="633.50">0.1</text>
<text class="tk" x="1453.0" y="577.50">0.2</text>
<text class="tk" x="1453.0" y="521.50">0.3</text>
<text class="tk" x="1453.0" y="465.50">0.4</text>
<text class="tk" x="1453.0" y="409.50">0.5</text>
<text class="tk" x="1453.0" y="353.50">0.6</text>
<text class="tk" x="1453.0" y="297.50">0.7</text>
<text class="tk" x="1453.0" y="241.50">0.8</text>
<text class="tk" x="1453.0" y="185.50">0.9</text>
<text class="tk" x="1453.0" y="129.50">1.0</text>
<text class="tk" x="200.00" y="737" text-anchor="middle">0.0</text>
<text class="tk" x="277.50" y="737" text-anchor="middle">0.5</text>
<text class="tk" x="355.00" y="737" text-anchor="middle">1.0</text>
<text class="tk" x="432.50" y="737" text-anchor="middle">1.5</text>
<text class="tk" x="510.00" y="737" text-anchor="middle">2.0</text>
<text class="tk" x="587.50" y="737" text-anchor="middle">2.5</text>
<text class="tk" x="665.00" y="737" text-anchor="middle">3.0</text>
<text class="tk" x="742.50" y="737" text-anchor="middle">3.5</text>
<text class="tk" x="820.00" y="737" text-anchor="middle">4.0</text>
<text class="tk" x="897.50" y="737" text-anchor="middle">4.5</text>
<text class="tk" x="975.00" y="737" text-anchor="middle">5.0</text>
<text class="tk" x="1052.50" y="737" text-anchor="middle">5.5</text>
<text class="tk" x="1130.00" y="737" text-anchor="middle">6.0</text>
<text class="tk" x="1207.50" y="737" text-anchor="middle">6.5</text>
<text class="tk" x="1285.00" y="737" text-anchor="middle">7.0</text>
<text class="tk" x="1362.50" y="737" text-anchor="middle">7.5</text>
<text class="lb" x="820" y="759.3" text-anchor="middle">Time (s)</text>
<text class="lb" x="820" y="87" text-anchor="middle" style="letter-spacing:-0.04px">stats at each timestep for test data 6809 [signal=0]</text>
<text class="lb" transform="translate(138.0 403.6) rotate(-90)" text-anchor="middle">Whitened strain</text>
<text class="lb" transform="translate(1495.4 404.3) rotate(-90)" text-anchor="middle">Detection probability</text>
<text class="an" x="231.00" y="124">SNR=11.450186729431152</text>
<text class="an" x="603.90" y="124"><tspan font-style="italic">M</tspan><tspan font-style="italic" font-size="14.58px" dy="3.2">c</tspan><tspan dy="-3.2">=3.9200944900512695</tspan></text>
<text class="an" x="1069.20" y="124"><tspan font-style="italic">S</tspan><tspan style="letter-spacing:-0.17px">=0.7857370972633362</tspan></text>
</svg></body></html>
